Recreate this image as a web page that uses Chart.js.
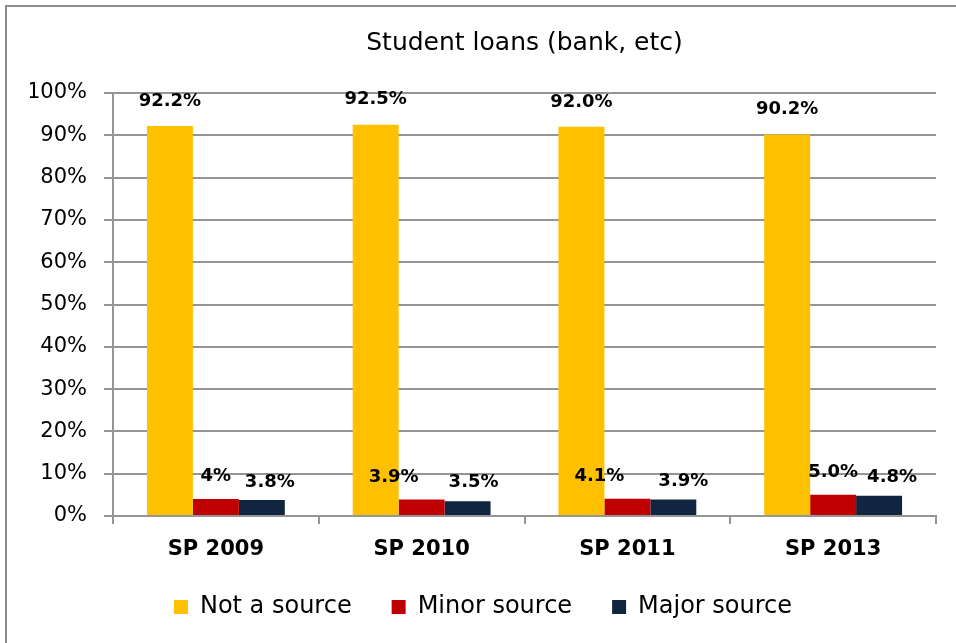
<!DOCTYPE html>
<html>
<head>
<meta charset="utf-8">
<title>Student loans (bank, etc)</title>
<script src="https://cdn.jsdelivr.net/npm/chart.js@4.4.1/dist/chart.umd.min.js"></script>
<style>
  html, body { margin: 0; padding: 0; background: #ffffff; }
  #wrap { position: relative; width: 956px; height: 643px; overflow: hidden; }
  #wrap canvas { position: absolute; left: 0; top: 0; }
  #frame {
    position: absolute; left: 5px; top: 5px; width: 1000px; height: 1000px;
    border-left: 2px solid #8c8c8c; border-top: 2px solid #8c8c8c;
    pointer-events: none;
  }
</style>
</head>
<body>
<div id="wrap">
  <canvas id="chart" width="956" height="643"></canvas>
  <div id="frame"></div>
</div>
<script>
// Survey waves
const categories = ['SP 2009', 'SP 2010', 'SP 2011', 'SP 2013'];

// Share of respondents (%) per answer
const notSource   = [92.2, 92.5, 92.0, 90.2];
const minorSource = [4, 3.9, 4.1, 5.0];
const majorSource = [3.8, 3.5, 3.9, 4.8];

// Printed value labels
const notSourceLabels   = ['92.2%', '92.5%', '92.0%', '90.2%'];
const minorSourceLabels = ['4%', '3.9%', '4.1%', '5.0%'];
const majorSourceLabels = ['3.8%', '3.5%', '3.9%', '4.8%'];

// Y axis ticks
const yTicks = [0, 10, 20, 30, 40, 50, 60, 70, 80, 90, 100];

const FONT = "'DejaVu Sans', sans-serif";
const GRID = '#959595';

// Draws the bold value above each bar
const valueLabels = {
  id: 'valueLabels',
  afterDatasetsDraw(chart, args, opts) {
    const ctx = chart.ctx;
    ctx.save();
    ctx.font = 'bold 18px ' + FONT;
    ctx.fillStyle = '#000000';
    ctx.textAlign = 'center';
    ctx.textBaseline = 'middle';
    chart.data.datasets.forEach((ds, di) => {
      const meta = chart.getDatasetMeta(di);
      meta.data.forEach((bar, i) => {
        const shift = (opts.shift[di] && opts.shift[di][i]) || [0, 0];
        const x = bar.x + shift[0];
        const y = bar.y - opts.lift[di] + shift[1];
        ctx.fillText(ds.valueLabels[i], x, y);
      });
    });
    ctx.restore();
  }
};

new Chart(document.getElementById('chart'), {
  type: 'bar',
  data: {
    labels: categories,
    datasets: [
      { label: 'Not a source', data: notSource, valueLabels: notSourceLabels,
        backgroundColor: '#FFC000' },
      { label: 'Minor source', data: minorSource, valueLabels: minorSourceLabels,
        backgroundColor: '#C00000' },
      { label: 'Major source', data: majorSource, valueLabels: majorSourceLabels,
        backgroundColor: '#10253F' }
    ]
  },
  options: {
    responsive: false,
    animation: false,
    devicePixelRatio: 1,
    datasets: { bar: { categoryPercentage: 0.67, barPercentage: 1.0, borderWidth: 0 } },
    layout: { padding: { left: 30, right: 20, top: 0, bottom: 14 } },
    plugins: {
      title: {
        display: true,
        text: 'Student loans (bank, etc)',
        fullSize: false,
        color: '#000000',
        font: { family: FONT, size: 25, weight: 'normal', lineHeight: 1.2 },
        padding: { top: 28, bottom: 35 }
      },
      legend: {
        position: 'bottom',
        labels: {
          color: '#000000',
          font: { family: FONT, size: 24, lineHeight: 1.2 },
          boxWidth: 14,
          boxHeight: 14,
          padding: 40
        }
      },
      tooltip: { enabled: false },
      valueLabels: {
        lift: [25, 23, 18],
        shift: {
          1: { 1: [-28, 1], 2: [-28, 1] },
          2: { 0: [8, 0], 1: [6, -1], 2: [10, 0], 3: [13, 0] }
        }
      }
    },
    scales: {
      x: {
        afterFit(scale) { scale.height = 39; },
        grid: {
          display: true, drawOnChartArea: false, drawTicks: true,
          tickLength: 8, color: GRID, lineWidth: 2, offset: true
        },
        border: { display: true, color: GRID, width: 2 },
        ticks: {
          color: '#000000', padding: 13,
          font: { family: FONT, size: 21, weight: 'bold', lineHeight: 1.2 }
        }
      },
      y: {
        min: 0, max: 100,
        afterFit(scale) { scale.width = 83; },
        afterBuildTicks(scale) { scale.ticks = yTicks.map(v => ({ value: v })); },
        grid: { color: GRID, lineWidth: 2, tickLength: 9, drawTicks: true },
        border: { display: true, color: GRID, width: 2 },
        ticks: {
          color: '#000000', padding: 17,
          font: { family: FONT, size: 21, weight: 'normal' },
          callback: v => v + '%'
        }
      }
    }
  },
  plugins: [valueLabels]
});
</script>
</body>
</html>
